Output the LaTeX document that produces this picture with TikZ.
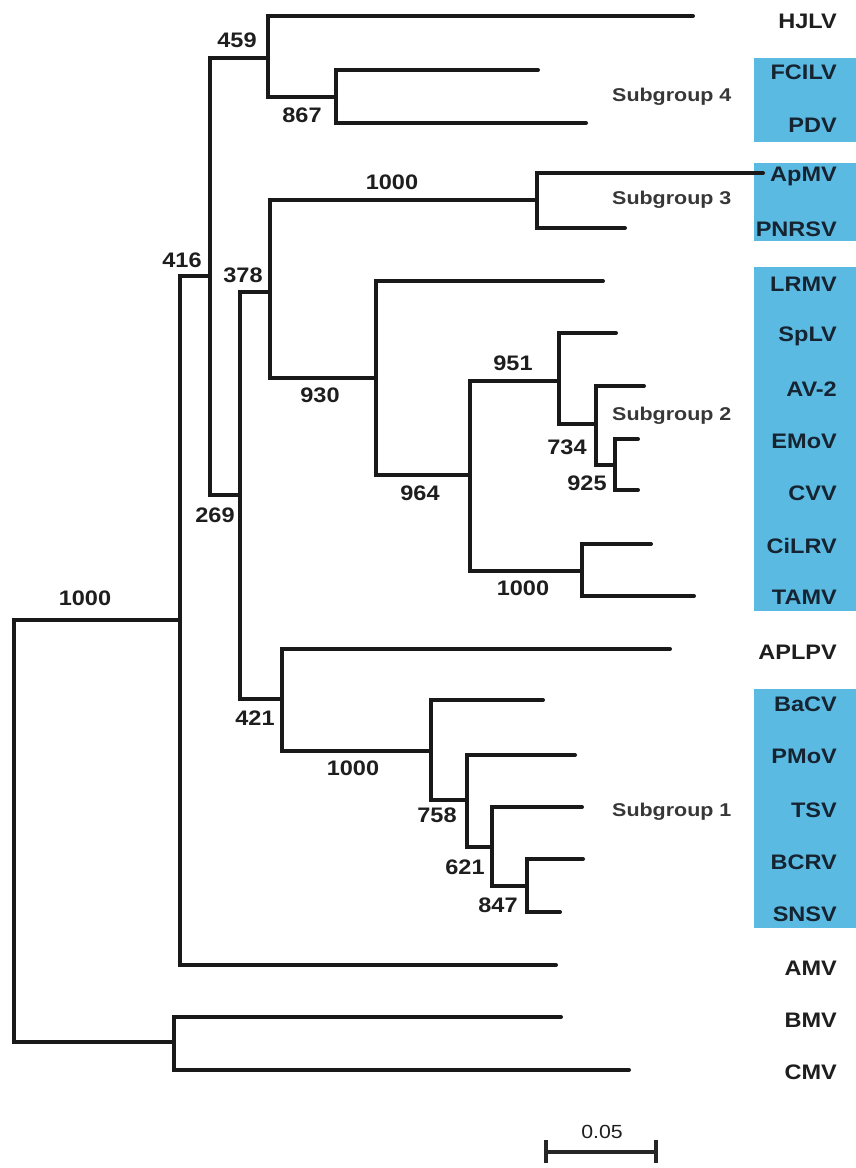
\documentclass[tikz,border=0pt]{standalone}
\usepackage{fontspec}
\setmainfont{Liberation Sans}
\newfontfamily\labfont[FakeStretch=1.12]{Liberation Sans}
\newfontfamily\subfont[FakeStretch=1.16]{Liberation Sans}
\definecolor{boxblue}{RGB}{90,186,226}
\definecolor{txtdark}{RGB}{30,30,30}
\definecolor{txtnavy}{RGB}{22,36,50}
\definecolor{subgray}{RGB}{55,55,55}
\begin{document}
\begin{tikzpicture}[x=1pt,y=-1pt,
  br/.style={line width=4pt,line cap=round,line join=miter,black!90},
  leaflab/.style={anchor=east,inner sep=0pt,text=txtdark,font=\labfont\bfseries\fontsize{21}{21}\selectfont},
  inlab/.style={leaflab,text=txtnavy},
  boot/.style={inner sep=0pt,text=txtdark,font=\labfont\bfseries\fontsize{21}{21}\selectfont},
  subg/.style={anchor=west,inner sep=0pt,text=subgray,font=\subfont\bfseries\fontsize{18.5}{18.5}\selectfont},
  sbar/.style={line width=3.4pt,black!85},
  bluebox/.style={fill=boxblue,draw=none}]
\useasboundingbox (0,0) rectangle (856,1168);
\fill[white] (0,0) rectangle (856,1168);
% blue boxes
\fill[bluebox] (754,58) rectangle (856,142);
\fill[bluebox] (754,163) rectangle (856,241);
\fill[bluebox] (754,267) rectangle (856,611);
\fill[bluebox] (754,689) rectangle (856,928);
% internal nodes
\coordinate (root) at (14,830);
\coordinate (nA) at (180,620);
\coordinate (n416) at (210,276);
\coordinate (n459) at (268,58);
\coordinate (n867) at (336,97);
\coordinate (n269) at (240,495);
\coordinate (n378) at (270,292);
\coordinate (nS3) at (537,200);
\coordinate (n930) at (376,378);
\coordinate (n964) at (470,475);
\coordinate (n951) at (559,381);
\coordinate (n734) at (596,424);
\coordinate (n925) at (615,465);
\coordinate (nB) at (582,571);
\coordinate (n421) at (282,699);
\coordinate (nC) at (431,751);
\coordinate (n758) at (467,800);
\coordinate (n621) at (492,847);
\coordinate (n847) at (527,886);
\coordinate (nD) at (174,1042);
% leaf ends
\coordinate (tHJLV) at (693,16);
\coordinate (tFCILV) at (538,70);
\coordinate (tPDV) at (586,123);
\coordinate (tApMV) at (763,173);
\coordinate (tPNRSV) at (625,228);
\coordinate (tLRMV) at (603,281);
\coordinate (tSpLV) at (616,333);
\coordinate (tAV) at (644,386);
\coordinate (tEMoV) at (638,439);
\coordinate (tCVV) at (638,490);
\coordinate (tCiLRV) at (651,544);
\coordinate (tTAMV) at (694,596);
\coordinate (tAPLPV) at (670,649);
\coordinate (tBaCV) at (543,700);
\coordinate (tPMoV) at (575,755);
\coordinate (tTSV) at (582,807);
\coordinate (tBCRV) at (583,859);
\coordinate (tSNSV) at (560,912);
\coordinate (tAMV) at (556,965);
\coordinate (tBMV) at (561,1017);
\coordinate (tCMV) at (629,1070);
% branches
\draw[br] (root) |- (nA);
\draw[br] (root) |- (nD);
\draw[br] (nA) |- (n416);
\draw[br] (nA) |- (tAMV);
\draw[br] (n416) |- (n459);
\draw[br] (n416) |- (n269);
\draw[br] (n459) |- (tHJLV);
\draw[br] (n459) |- (n867);
\draw[br] (n867) |- (tFCILV);
\draw[br] (n867) |- (tPDV);
\draw[br] (n269) |- (n378);
\draw[br] (n269) |- (n421);
\draw[br] (n378) |- (nS3);
\draw[br] (n378) |- (n930);
\draw[br] (nS3) |- (tApMV);
\draw[br] (nS3) |- (tPNRSV);
\draw[br] (n930) |- (tLRMV);
\draw[br] (n930) |- (n964);
\draw[br] (n964) |- (n951);
\draw[br] (n964) |- (nB);
\draw[br] (n951) |- (tSpLV);
\draw[br] (n951) |- (n734);
\draw[br] (n734) |- (tAV);
\draw[br] (n734) |- (n925);
\draw[br] (n925) |- (tEMoV);
\draw[br] (n925) |- (tCVV);
\draw[br] (nB) |- (tCiLRV);
\draw[br] (nB) |- (tTAMV);
\draw[br] (n421) |- (tAPLPV);
\draw[br] (n421) |- (nC);
\draw[br] (nC) |- (tBaCV);
\draw[br] (nC) |- (n758);
\draw[br] (n758) |- (tPMoV);
\draw[br] (n758) |- (n621);
\draw[br] (n621) |- (tTSV);
\draw[br] (n621) |- (n847);
\draw[br] (n847) |- (tBCRV);
\draw[br] (n847) |- (tSNSV);
\draw[br] (nD) |- (tBMV);
\draw[br] (nD) |- (tCMV);
% bootstrap values
\node[boot] (b459) at (237,40) {459};
\node[boot] (b867) at (302,115) {867};
\node[boot] (bS3) at (392,182) {1000};
\node[boot] (b416) at (182,260) {416};
\node[boot] (b378) at (243,275) {378};
\node[boot] (b930) at (320,395) {930};
\node[boot] (b269) at (215,515) {269};
\node[boot] (b964) at (420,493) {964};
\node[boot] (b951) at (513,363) {951};
\node[boot] (b734) at (567,447) {734};
\node[boot] (b925) at (587,483) {925};
\node[boot] (bB) at (523,588) {1000};
\node[boot] (bA) at (85,598) {1000};
\node[boot] (b421) at (255,718) {421};
\node[boot] (bC) at (353,768) {1000};
\node[boot] (b758) at (437,815) {758};
\node[boot] (b621) at (465,867) {621};
\node[boot] (b847) at (498,905) {847};
% leaf labels
\node[leaflab] (lHJLV) at (837,21) {HJLV};
\node[inlab] (lFCILV) at (837,72) {FCILV};
\node[inlab] (lPDV) at (837,125) {PDV};
\node[inlab] (lApMV) at (837,176) {ApMV};
\node[inlab] (lPNRSV) at (837,229) {PNRSV};
\node[inlab] (lLRMV) at (837,284) {LRMV};
\node[inlab] (lSpLV) at (837,336) {SpLV};
\node[inlab] (lAV) at (837,389) {AV-2};
\node[inlab] (lEMoV) at (837,441) {EMoV};
\node[inlab] (lCVV) at (837,493) {CVV};
\node[inlab] (lCiLRV) at (837,546) {CiLRV};
\node[inlab] (lTAMV) at (837,597) {TAMV};
\node[leaflab] (lAPLPV) at (837,652) {APLPV};
\node[inlab] (lBaCV) at (837,704) {BaCV};
\node[inlab] (lPMoV) at (837,756) {PMoV};
\node[inlab] (lTSV) at (837,810) {TSV};
\node[inlab] (lBCRV) at (837,862) {BCRV};
\node[inlab] (lSNSV) at (837,914) {SNSV};
\node[leaflab] (lAMV) at (837,968) {AMV};
\node[leaflab] (lBMV) at (837,1020) {BMV};
\node[leaflab] (lCMV) at (837,1072) {CMV};
% subgroup labels
\node[subg] (s4) at (612,97) {Subgroup 4};
\node[subg] (s3) at (612,200) {Subgroup 3};
\node[subg] (s2) at (612,416) {Subgroup 2};
\node[subg] (s1) at (612,812) {Subgroup 1};
% scale bar
\coordinate (sbL) at (546,1152);
\coordinate (sbR) at (656,1152);
\draw[sbar] (sbL) -- (sbR);
\draw[sbar] ([yshift=-11pt]sbL) -- ([yshift=12pt]sbL);
\draw[sbar] ([yshift=-11pt]sbR) -- ([yshift=12pt]sbR);
\node[inner sep=0pt,text=txtdark,font=\labfont\fontsize{19}{19}\selectfont] (sbt) at (602,1132) {0.05};
\end{tikzpicture}
\end{document}
